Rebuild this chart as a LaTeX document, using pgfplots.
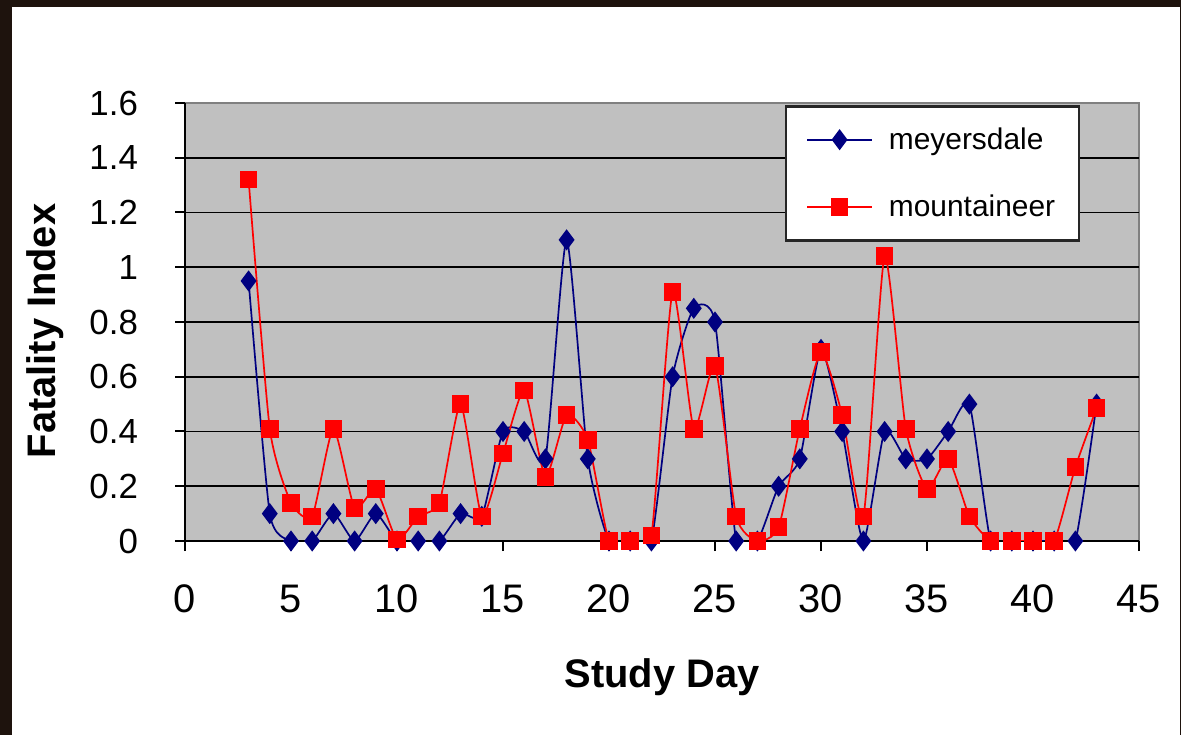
\documentclass[border=0pt]{standalone}
\usepackage{fontspec}
\setmainfont{Liberation Sans}
\usepackage{pgfplots}
\pgfplotsset{compat=1.18}
\definecolor{framebrown}{RGB}{30,19,13}
\definecolor{plotgray}{RGB}{192,192,192}
\definecolor{navy}{RGB}{0,0,128}
\definecolor{xlred}{RGB}{255,0,0}

\begin{document}
\begin{tikzpicture}
% dark frame and white page (1 px = 0.5 bp)
\fill[framebrown] (0,0) rectangle (590.5bp,367.5bp);
\fill[white] (6bp,0) rectangle (590bp,364bp);
\useasboundingbox (0,0) rectangle (590.5bp,367.5bp);
\begin{axis}[
  at={(92.5bp,97bp)}, anchor=south west,
  scale only axis, width=477bp, height=219bp,
  xmin=0, xmax=45, ymin=0, ymax=1.6,
  xtick distance=5, ytick distance=0.2,
  axis x line*=bottom, axis y line*=left,
  axis line style={black, line width=1bp, -},
  axis background/.style={fill=plotgray, draw=gray, line width=1bp},
  extra y ticks={0.2,0.4,0.6,0.8,1,1.2,1.4},
  extra y tick labels={},
  extra y tick style={grid=major, major tick length=0pt},
  grid style={black, line width=0.9bp},
  tick align=outside, tick pos=left,
  major tick length=5bp, tick style={black, line width=1bp},
  /pgf/number format/assume math mode=true,
  xticklabel style={font=\fontsize{20}{24}\selectfont, yshift=-13.5bp},
  yticklabel style={font=\fontsize{17.5}{20}\selectfont, xshift=-15bp},
  xlabel={\bfseries Study Day},
  ylabel={\bfseries Fatality Index},
  every axis x label/.style={at={(axis description cs:0.5,0)}, anchor=base,
    yshift=-73bp, font=\fontsize{20}{24}\selectfont},
  every axis y label/.style={at={(axis description cs:0,0.5)}, rotate=90,
    anchor=base, yshift=65bp, xshift=-4.5bp, font=\fontsize{20}{24}\selectfont},
  legend image code/.code={\draw[mark repeat=2, mark phase=2]
    plot coordinates {(0bp,0bp) (16.25bp,0bp) (32.5bp,0bp)};},
  legend cell align=left,
  legend style={at={(rel axis cs:0.629,0.995)}, anchor=north west,
    draw=black!85, line width=1.2bp, fill=white,
    font=\fontsize{15}{18}\selectfont,
    inner xsep=10bp, inner ysep=8.5bp, row sep=17.5bp, column sep=6bp},
]
\addplot[navy, line width=0.85bp, smooth, tension=0.35,
  mark=diamond*, mark size=4.6bp, mark options={solid, fill=navy}]
  coordinates {
  (3,0.95) (4,0.1) (5,0) (6,0) (7,0.1) (8,0) (9,0.1) (10,0)
  (11,0) (12,0) (13,0.1) (14,0.09) (15,0.4) (16,0.4) (17,0.3) (18,1.1)
  (19,0.3) (20,0) (21,0) (22,0) (23,0.6) (24,0.85) (25,0.8) (26,0)
  (27,0) (28,0.2) (29,0.3) (30,0.7) (31,0.4) (32,0) (33,0.4) (34,0.3)
  (35,0.3) (36,0.4) (37,0.5) (38,0) (39,0) (40,0) (41,0) (42,0) (43,0.5)
  };
\addlegendentry{meyersdale}
\addplot[xlred, line width=0.85bp, smooth, tension=0.35,
  mark=square*, mark size=4bp, mark options={solid, fill=xlred}]
  coordinates {
  (3,1.32) (4,0.41) (5,0.14) (6,0.09) (7,0.41) (8,0.12) (9,0.19) (10,0.005)
  (11,0.09) (12,0.14) (13,0.5) (14,0.09) (15,0.32) (16,0.55) (17,0.235) (18,0.46)
  (19,0.37) (20,0) (21,0) (22,0.02) (23,0.91) (24,0.41) (25,0.64) (26,0.09)
  (27,0) (28,0.05) (29,0.41) (30,0.69) (31,0.46) (32,0.09) (33,1.04) (34,0.41)
  (35,0.19) (36,0.3) (37,0.09) (38,0) (39,0) (40,0) (41,0) (42,0.27) (43,0.485)
  };
\addlegendentry{mountaineer}
\end{axis}
\end{tikzpicture}
\end{document}
